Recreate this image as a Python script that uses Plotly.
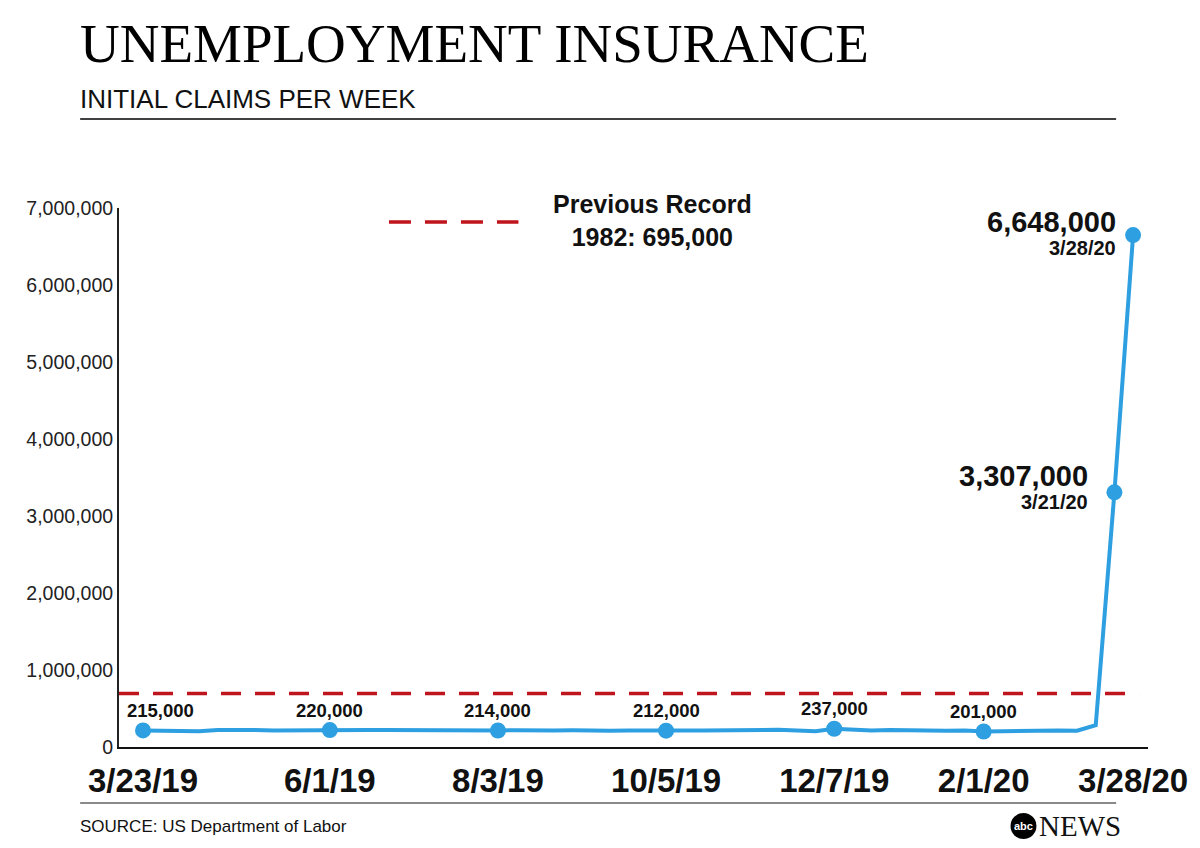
import plotly.graph_objects as go

# ---------------- data ----------------
week_dates = [
    "2019-03-23", "2019-03-30", "2019-04-06", "2019-04-13", "2019-04-20", "2019-04-27",
    "2019-05-04", "2019-05-11", "2019-05-18", "2019-05-25", "2019-06-01", "2019-06-08",
    "2019-06-15", "2019-06-22", "2019-06-29", "2019-07-06", "2019-07-13", "2019-07-20",
    "2019-07-27", "2019-08-03", "2019-08-10", "2019-08-17", "2019-08-24", "2019-08-31",
    "2019-09-07", "2019-09-14", "2019-09-21", "2019-09-28", "2019-10-05", "2019-10-12",
    "2019-10-19", "2019-10-26", "2019-11-02", "2019-11-09", "2019-11-16", "2019-11-23",
    "2019-11-30", "2019-12-07", "2019-12-14", "2019-12-21", "2019-12-28", "2020-01-04",
    "2020-01-11", "2020-01-18", "2020-01-25", "2020-02-01", "2020-02-08", "2020-02-15",
    "2020-02-22", "2020-02-29", "2020-03-07", "2020-03-14", "2020-03-21", "2020-03-28",
]
claims = [
    215000, 210000, 205000, 204000, 220000, 226000,
    220000, 214000, 213000, 215000, 220000, 221000,
    220000, 222000, 220000, 214000, 216000, 212000,
    214000, 214000, 218000, 212000, 215000, 216000,
    208000, 210000, 214000, 218000, 212000, 214000,
    213000, 217000, 212000, 222000, 224000, 215000,
    206000, 237000, 228000, 215000, 220000, 214000,
    206000, 212000, 215000, 201000, 205000, 210000,
    218000, 214000, 211000, 282000, 3307000, 6648000,
]

# labelled points
small_label_dates = ["2019-03-23", "2019-06-01", "2019-08-03", "2019-10-05", "2019-12-07", "2020-02-01"]
small_label_values = [215000, 220000, 214000, 212000, 237000, 201000]
big_label_dates = ["2020-03-21", "2020-03-28"]
big_label_values = [3307000, 6648000]
big_label_text = ["3/21/20", "3/28/20"]

tick_dates = ["2019-03-23", "2019-06-01", "2019-08-03", "2019-10-05", "2019-12-07", "2020-02-01", "2020-03-28"]
tick_text = ["3/23/19", "6/1/19", "8/3/19", "10/5/19", "12/7/19", "2/1/20", "3/28/20"]
y_ticks = [0, 1000000, 2000000, 3000000, 4000000, 5000000, 6000000, 7000000]

previous_record = 695000
previous_record_year = "1982"

# ---------------- layout helpers ----------------
OFF = 8  # page body margin
W, H = 1200 - OFF, 848 - OFF
PL, PR, PT, PB = 119, 1152, 208, 747  # plot area in target page pixels


def px(x):
    return (x - PL) / (PR - PL)


def py(y):
    return (PB - y) / (PB - PT)


BLUE = "#2e9fe0"
RED = "#c0141c"
SANS = "Liberation Sans, Arial, sans-serif"
SERIF = "Liberation Serif, Times New Roman, serif"

fig = go.Figure()

fig.add_trace(go.Scatter(
    x=week_dates, y=claims, mode="lines",
    line=dict(color=BLUE, width=4), hoverinfo="skip", showlegend=False,
))
fig.add_trace(go.Scatter(
    x=small_label_dates + big_label_dates,
    y=small_label_values + big_label_values,
    mode="markers", marker=dict(color=BLUE, size=16),
    hoverinfo="skip", showlegend=False,
))

annotations = []
for i, (d, v) in enumerate(zip(small_label_dates, small_label_values)):
    annotations.append(dict(
        x=d, y=v, xref="x", yref="y", text=f"<b>{v:,}</b>", showarrow=False,
        xanchor="center", yanchor="middle", xshift=17 if i == 0 else 0, yshift=20,
        font=dict(family=SANS, size=18.5, color="#111"),
    ))

# big labels
big_shifts = [(-24, 16), (-15, 13)]
for (d, v, t), (xs, ys) in zip(zip(big_label_dates, big_label_values, big_label_text), big_shifts):
    annotations.append(dict(
        x=d, y=v, xref="x", yref="y", text=f"<b>{v:,}</b>", showarrow=False,
        xanchor="right", yanchor="middle", xshift=xs, yshift=ys,
        font=dict(family=SANS, size=29, color="#111"),
    ))
    annotations.append(dict(
        x=d, y=v, xref="x", yref="y", text=f"<b>{t}</b>", showarrow=False,
        xanchor="right", yanchor="middle", xshift=xs, yshift=ys - 26,
        font=dict(family=SANS, size=20, color="#111"),
    ))

# title / subtitle
annotations.append(dict(
    x=px(78), y=py(43), xref="paper", yref="paper", text="UNEMPLOYMENT INSURANCE",
    showarrow=False, xanchor="left", yanchor="middle",
    font=dict(family=SERIF, size=55, color="#000"),
))
annotations.append(dict(
    x=px(78), y=py(99), xref="paper", yref="paper", text="INITIAL CLAIMS PER WEEK",
    showarrow=False, xanchor="left", yanchor="middle",
    font=dict(family=SANS, size=26, color="#111"),
))
# previous record legend text
annotations.append(dict(
    x=px(655), y=py(220), xref="paper", yref="paper",
    text=f"<b>Previous Record</b><br><b>{previous_record_year}: {previous_record:,}</b>",
    showarrow=False, xanchor="center", yanchor="middle", align="center",
    font=dict(family=SANS, size=25, color="#111"),
))
# source
annotations.append(dict(
    x=px(78), y=py(826), xref="paper", yref="paper", text="SOURCE: US Department of Labor",
    showarrow=False, xanchor="left", yanchor="middle",
    font=dict(family=SANS, size=17, color="#111"),
))
# abc news logo
annotations.append(dict(
    x=px(1027), y=py(826), xref="paper", yref="paper", text="<b>abc</b>",
    showarrow=False, xanchor="center", yanchor="middle",
    font=dict(family=SANS, size=11, color="#fff"),
))
annotations.append(dict(
    x=px(1041), y=py(826), xref="paper", yref="paper", text="NEWS",
    showarrow=False, xanchor="left", yanchor="middle",
    font=dict(family=SERIF, size=29, color="#111"),
))

shapes = [
    # previous record line
    dict(type="line", xref="paper", yref="y", x0=0, x1=px(1143),
         y0=previous_record, y1=previous_record,
         line=dict(color=RED, width=3.5, dash="20px,14px"), layer="below"),
    # legend dash sample
    dict(type="line", xref="paper", yref="paper", x0=px(390), x1=px(520),
         y0=py(222), y1=py(222), line=dict(color=RED, width=3.5, dash="22px,14px")),
    # title rule
    dict(type="line", xref="paper", yref="paper", x0=px(80), x1=px(1120),
         y0=py(119), y1=py(119), line=dict(color="#000", width=1.5)),
    # footer rule
    dict(type="line", xref="paper", yref="paper", x0=px(80), x1=px(1120),
         y0=py(803), y1=py(803), line=dict(color="#8a8a8a", width=2)),
    # abc circle
    dict(type="circle", xref="paper", yref="paper", x0=px(1014), x1=px(1040),
         y0=py(813), y1=py(839), fillcolor="#000", line=dict(width=0)),
]

fig.update_layout(
    width=W, height=H,
    margin=dict(l=PL - OFF, r=1200 - PR, t=PT - OFF, b=848 - PB),
    paper_bgcolor="#fff", plot_bgcolor="#fff",
    showlegend=False,
    annotations=annotations,
    shapes=shapes,
    xaxis=dict(
        type="date", range=["2019-03-14", "2020-04-02 14:00"],
        tickvals=tick_dates, ticktext=tick_text, ticks="",
        showgrid=False, zeroline=False, showline=True, linecolor="#111", linewidth=2,
        tickfont=dict(family=SANS, size=33, color="#111", weight="bold"),
        ticklabelstandoff=3,
    ),
    yaxis=dict(
        range=[0, 7000000], tickvals=y_ticks, tickformat=",d", ticks="",
        showgrid=False, zeroline=False, showline=True, linecolor="#222", linewidth=2,
        tickfont=dict(family=SANS, size=19.5, color="#222"),
    ),
)

fig.write_html("out.html")
